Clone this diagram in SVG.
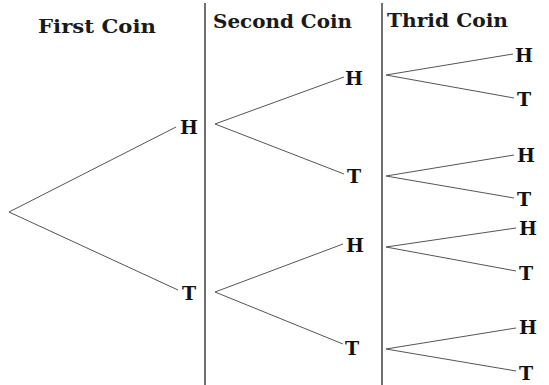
<svg xmlns="http://www.w3.org/2000/svg" width="549" height="385" viewBox="0 0 549 385">
<style>
.hdr{font-family:"DejaVu Serif","Liberation Serif",serif;font-weight:bold;font-size:18px;fill:#1a1a1a}
.lbl{font-family:"DejaVu Serif","Liberation Serif",serif;font-weight:bold;font-size:19px;fill:#111}
.c{stroke:#555;stroke-width:1;fill:none}
.div{stroke:#222;stroke-width:1.3}
</style>
<rect width="549" height="385" fill="#fff"/>
<g id="headers">
<text class="hdr" x="38" y="33" textLength="118" lengthAdjust="spacingAndGlyphs">First Coin</text>
<text class="hdr" x="213" y="28" textLength="139" lengthAdjust="spacingAndGlyphs">Second Coin</text>
<text class="hdr" x="387" y="27" textLength="121" lengthAdjust="spacingAndGlyphs">Thrid Coin</text>
</g>
<g id="dividers">
<line class="div" x1="205" y1="3" x2="205" y2="385"/>
<line class="div" x1="382" y1="3" x2="382" y2="385"/>
</g>
<g id="connectors">
<path class="c" d="M9,212 L176,127 M9,212 L178,290"/>
<path class="c" d="M215,124 L344,77 M215,124 L344,174"/>
<path class="c" d="M215,292 L343,244 M215,292 L343,344"/>
<path class="c" d="M386,75 L513,54 M386,75 L514,98"/>
<path class="c" d="M386,176 L514,155 M386,176 L514,198"/>
<path class="c" d="M386,247 L516,228 M386,247 L516,271"/>
<path class="c" d="M386,349 L516,328 M386,349 L516,371"/>
</g>
<g id="n1H"><text class="lbl" x="180" y="134">H</text></g>
<g id="n1T"><text class="lbl" x="182" y="300">T</text></g>
<g id="n2HH"><text class="lbl" x="345" y="85">H</text></g>
<g id="n2HT"><text class="lbl" x="347" y="183">T</text></g>
<g id="n2TH"><text class="lbl" x="346" y="252">H</text></g>
<g id="n2TT"><text class="lbl" x="345" y="355">T</text></g>
<g id="n3a"><text class="lbl" x="515" y="62">H</text></g>
<g id="n3b"><text class="lbl" x="517" y="106">T</text></g>
<g id="n3c"><text class="lbl" x="517" y="162">H</text></g>
<g id="n3d"><text class="lbl" x="517" y="206">T</text></g>
<g id="n3e"><text class="lbl" x="519" y="235">H</text></g>
<g id="n3f"><text class="lbl" x="519" y="280">T</text></g>
<g id="n3g"><text class="lbl" x="519" y="334">H</text></g>
<g id="n3h"><text class="lbl" x="519" y="380">T</text></g>
</svg>
